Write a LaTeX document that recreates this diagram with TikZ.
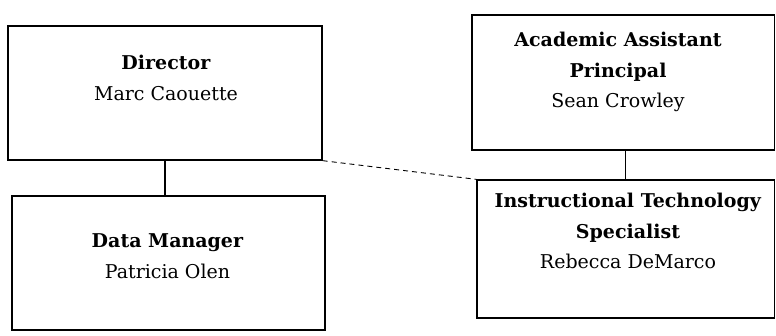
\documentclass[tikz,border=0pt]{standalone}
\usepackage{fontspec}
\setmainfont{DejaVu Serif}
\usetikzlibrary{positioning}

\begin{document}
\begin{tikzpicture}[x=1pt,y=-1pt,
  box/.style={draw,line width=1.3pt,inner sep=0pt},
  txt/.style={align=center,inner sep=0pt,font=\fontsize{19}{30.5}\selectfont}]

\useasboundingbox (0,0) rectangle (776,336);

% boxes, left column and right column
\node [box,minimum width=314pt,minimum height=134pt] (dir) at (165,93) {};
\node [box,minimum width=313pt,minimum height=134pt] (dm) at (168.5,263) {};
\node [box,minimum width=302.5pt,minimum height=135pt] (asp) at (623.25,82.5) {};
\node [box,minimum width=297.5pt,minimum height=138pt] (itd) at (625.75,249) {};

\node [txt] (dirt) at (166,78) {\textbf{Director}\\Marc Caouette};
\node [txt] (dmt) at (167.5,256) {\textbf{Data Manager}\\Patricia Olen};
\node [txt] (aspt) at (618,72) {\textbf{Academic Assistant}\\\textbf{Principal}\\Sean Crowley};
\node [txt] (itdt) at (628,231) {\textbf{Instructional Technology}\\\textbf{Specialist}\\Rebecca DeMarco};

\draw [line width=1.2pt] (dir.south) -- (dir.south |- dm.north);
\draw [line width=1.2pt] (itd.north |- asp.south) -- (itd.north);
\draw [line width=0.9pt,dash pattern=on 5pt off 4pt] (dir.south east) -- (itd.north west);

\end{tikzpicture}
\end{document}
